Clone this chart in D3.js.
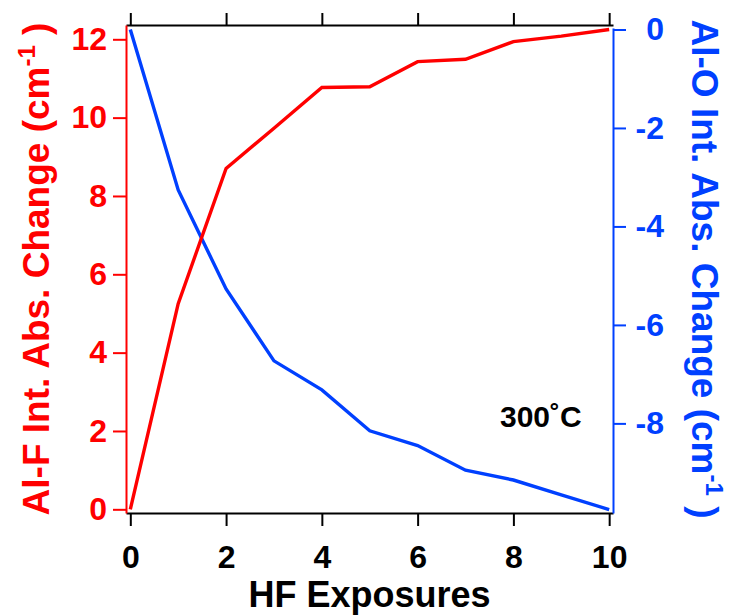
<!DOCTYPE html>
<html>
<head>
<meta charset="utf-8">
<script src="https://cdn.jsdelivr.net/npm/d3@7"></script>
<style>
  body { margin: 0; background: #fff; }
  text { font-family: "Liberation Sans", Arial, sans-serif; font-weight: bold; }
</style>
</head>
<body>
<div id="chart"></div>
<script>
// data
const exposures = [0, 1, 2, 3, 4, 5, 6, 7, 8, 9, 10];
const alF = [0, 5.25, 8.70, 9.73, 10.77, 10.79, 11.43, 11.49, 11.94, 12.08, 12.25];
const alO = [0, -3.26, -5.27, -6.73, -7.32, -8.15, -8.45, -8.95, -9.15, -9.45, -9.75];
const xTicks = [0, 2, 4, 6, 8, 10];
const redTicks = [0, 2, 4, 6, 8, 10, 12];
const blueTicks = [0, -2, -4, -6, -8];

const RED = "#ff0000";
const BLUE = "#0040ff";

const svg = d3.select("#chart")
    .append("svg")
    .attr("width", 731)
    .attr("height", 615);

const plotL = 126, plotR = 613, plotT = 25, plotB = 513;

const x = d3.scaleLinear().domain([-0.09, 10.08]).range([plotL, plotR]);
const yRed = d3.scaleLinear().domain([-0.094, 12.365]).range([plotB, plotT]);
const yBlue = d3.scaleLinear().domain([-9.82, 0.03]).range([plotB, 28]);

// bottom axis
const xAxis = svg.append("g")
    .attr("transform", `translate(0,${plotB})`)
    .call(d3.axisBottom(x).tickValues(xTicks).tickSize(13).tickSizeOuter(0).tickFormat(d3.format("d")));
xAxis.selectAll("text")
    .attr("y", 55)
    .attr("dy", 0)
    .attr("font-size", 32)
    .attr("fill", "#000");

// top axis (no labels)
svg.append("g")
    .attr("transform", `translate(0,${plotT})`)
    .call(d3.axisTop(x).tickValues(xTicks).tickSize(12).tickSizeOuter(0).tickFormat(""));

// left red axis
const redAxis = svg.append("g")
    .attr("transform", `translate(${plotL},0)`)
    .call(d3.axisLeft(yRed).tickValues(redTicks).tickSize(13).tickSizeOuter(0).tickPadding(6));
redAxis.selectAll("text").attr("font-size", 32).attr("fill", RED);

// right blue axis
const blueAxis = svg.append("g")
    .attr("transform", `translate(${plotR},0)`)
    .call(d3.axisRight(yBlue).tickValues(blueTicks).tickSize(13).tickSizeOuter(0)
        .tickFormat(d => d === 0 ? "0" : "-" + Math.abs(d)));
blueAxis.selectAll("text")
    .attr("x", 51)
    .attr("text-anchor", "end")
    .attr("font-size", 32)
    .attr("fill", BLUE);

// axis styling
svg.selectAll(".domain, .tick line").attr("stroke-width", 2);
xAxis.selectAll(".domain, .tick line").attr("stroke", "#000");
redAxis.selectAll(".domain, .tick line").attr("stroke", RED);
blueAxis.selectAll(".domain, .tick line").attr("stroke", BLUE);

// lines
const redLine = d3.line().x((d, i) => x(exposures[i])).y(d => yRed(d));
const blueLine = d3.line().x((d, i) => x(exposures[i])).y(d => yBlue(d));

svg.append("path")
    .datum(alO)
    .attr("d", blueLine)
    .attr("fill", "none")
    .attr("stroke", BLUE)
    .attr("stroke-width", 3.4);

svg.append("path")
    .datum(alF)
    .attr("d", redLine)
    .attr("fill", "none")
    .attr("stroke", RED)
    .attr("stroke-width", 3.4);

// axis titles
svg.append("text")
    .attr("x", (plotL + plotR) / 2)
    .attr("y", 607)
    .attr("text-anchor", "middle")
    .attr("font-size", 36)
    .attr("fill", "#000")
    .text("HF Exposures");

const lt = svg.append("text")
    .attr("transform", `translate(49,${(plotT + plotB) / 2}) rotate(-90)`)
    .attr("text-anchor", "middle")
    .attr("font-size", 37)
    .attr("fill", RED);
lt.append("tspan").text("Al-F Int. Abs. Change (cm");
lt.append("tspan").attr("dy", -14).attr("font-size", 24).text("-1");
lt.append("tspan").attr("dy", 14).text(" )");

const rt = svg.append("text")
    .attr("transform", `translate(692,${(plotT + plotB) / 2}) rotate(90)`)
    .attr("text-anchor", "middle")
    .attr("font-size", 37)
    .attr("fill", BLUE);
rt.append("tspan").text("Al-O Int. Abs. Change (cm");
rt.append("tspan").attr("dy", -14).attr("font-size", 24).text("-1");
rt.append("tspan").attr("dy", 14).text(" )");

// annotation
svg.append("text")
    .attr("x", 500)
    .attr("y", 427)
    .attr("font-size", 30)
    .attr("fill", "#000")
    .text("300˚C");
</script>
</body>
</html>
